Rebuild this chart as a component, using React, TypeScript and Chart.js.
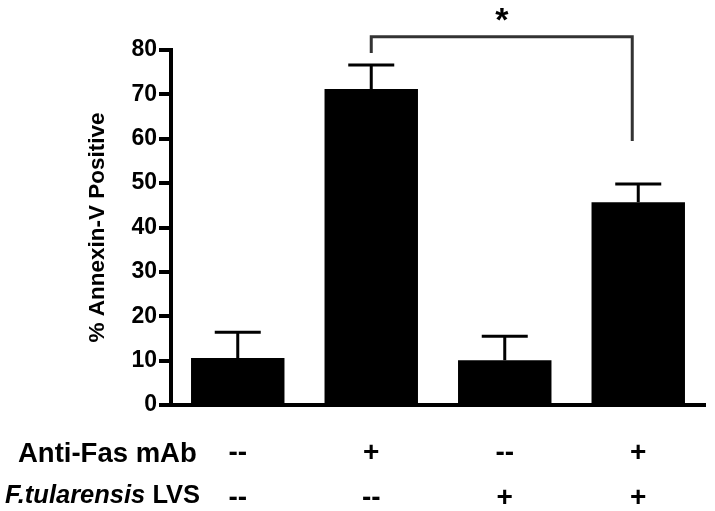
import React, { useEffect, useRef } from "react";
import { Chart, registerables } from "chart.js";

Chart.register(...registerables);

const categories = ["G1", "G2", "G3", "G4"];
const antiFasRow = ["--", "+", "--", "+"];
const lvsRow = ["--", "--", "+", "+"];
const values = [10.6, 71.2, 10.1, 45.7];
const errors = [5.8, 5.4, 5.4, 4.1];
const yTicks = [0, 10, 20, 30, 40, 50, 60, 70, 80];
const bracketFrom = 1;
const bracketTo = 3;
const bracketLevel = 83;
const bracketLeftEnd = 79.3;
const bracketRightEnd = 59.5;
const rowLabel1 = "Anti-Fas mAb";
const rowLabel2Italic = "F.tularensis";
const rowLabel2Rest = " LVS";
const yTitle = "% Annexin-V Positive";

const FONT = "Arial, 'Liberation Sans', Helvetica, sans-serif";

const extrasPlugin = {
  id: "extras",
  afterDatasetsDraw(chart: any) {
    const ctx = chart.ctx;
    const y = chart.scales.y;
    const meta = chart.getDatasetMeta(0);
    ctx.save();
    // error bars
    ctx.strokeStyle = "#000";
    ctx.lineWidth = 3;
    ctx.lineCap = "butt";
    meta.data.forEach((bar: any, i: number) => {
      const yBase = y.getPixelForValue(values[i]);
      const yTop = y.getPixelForValue(values[i] + errors[i]);
      ctx.beginPath();
      ctx.moveTo(bar.x, yBase);
      ctx.lineTo(bar.x, yTop);
      ctx.moveTo(bar.x - 23, yTop);
      ctx.lineTo(bar.x + 23, yTop);
      ctx.stroke();
    });
    // significance bracket
    const xl = meta.data[bracketFrom].x;
    const xr = meta.data[bracketTo].x - 6;
    const yl = y.getPixelForValue(bracketLevel);
    ctx.strokeStyle = "#333";
    ctx.lineWidth = 3;
    ctx.lineJoin = "miter";
    ctx.beginPath();
    ctx.moveTo(xl, y.getPixelForValue(bracketLeftEnd));
    ctx.lineTo(xl, yl);
    ctx.lineTo(xr, yl);
    ctx.lineTo(xr, y.getPixelForValue(bracketRightEnd));
    ctx.stroke();
    ctx.fillStyle = "#000";
    ctx.font = `bold 34px ${FONT}`;
    ctx.textAlign = "center";
    ctx.textBaseline = "alphabetic";
    ctx.fillText("*", (xl + xr) / 2, yl - 6);
    ctx.restore();
  },
  afterDraw(chart: any) {
    const ctx = chart.ctx;
    ctx.save();
    ctx.fillStyle = "#000";
    ctx.textAlign = "left";
    ctx.textBaseline = "middle";
    ctx.font = `bold 27.5px ${FONT}`;
    ctx.fillText(rowLabel1, 18, 454);
    ctx.font = `italic bold 25.5px ${FONT}`;
    ctx.fillText(rowLabel2Italic, 5, 496);
    const w = ctx.measureText(rowLabel2Italic).width;
    ctx.font = `bold 25.5px ${FONT}`;
    ctx.fillText(rowLabel2Rest, 5 + w, 496);
    ctx.restore();
  },
};

export default function App() {
  const ref = useRef<HTMLCanvasElement>(null);
  useEffect(() => {
    const canvas = ref.current;
    if (!canvas) return;
    const chart = new Chart(canvas, {
      type: "bar",
      data: {
        labels: categories.map((_, i) => [antiFasRow[i], lvsRow[i]]),
        datasets: [
          {
            data: values,
            backgroundColor: "#000",
            borderWidth: 0,
            barPercentage: 0.7,
            categoryPercentage: 1,
          },
        ],
      },
      options: {
        responsive: false,
        animation: false,
        layout: { padding: { left: 80, top: 50, right: 10, bottom: 0 } },
        plugins: {
          legend: { display: false },
          tooltip: { enabled: false },
        },
        scales: {
          x: {
            grid: { display: false, drawTicks: false },
            border: { display: true, width: 4, color: "#000" },
            ticks: {
              color: "#000",
              font: { family: FONT, size: 28, weight: "bold", lineHeight: 1.6 },
              padding: 26,
              maxRotation: 0,
              autoSkip: false,
            },
            afterFit: (s: any) => {
              s.height = 106;
            },
          },
          y: {
            min: 0,
            max: 80,
            afterBuildTicks: (s: any) => {
              s.ticks = yTicks.map((v) => ({ value: v }));
            },
            grid: {
              drawOnChartArea: false,
              drawTicks: true,
              tickLength: 12,
              lineWidth: 4,
              color: "#000",
            },
            border: { display: true, width: 4, color: "#000" },
            ticks: {
              color: "#000",
              font: { family: FONT, size: 23, weight: "bold" },
              padding: 2,
            },
            title: {
              display: true,
              text: yTitle,
              color: "#000",
              font: { family: FONT, size: 22.5, weight: "bold" },
              padding: { top: 4, bottom: 4 },
            },
            afterFit: (s: any) => {
              s.width = 91;
            },
          },
        },
      },
      plugins: [extrasPlugin],
    });
    return () => chart.destroy();
  }, []);
  return (
    <canvas
      ref={ref}
      width={715}
      height={511}
      style={{ position: "absolute", left: 0, top: 0, display: "block", background: "#fff" }}
    />
  );
}
